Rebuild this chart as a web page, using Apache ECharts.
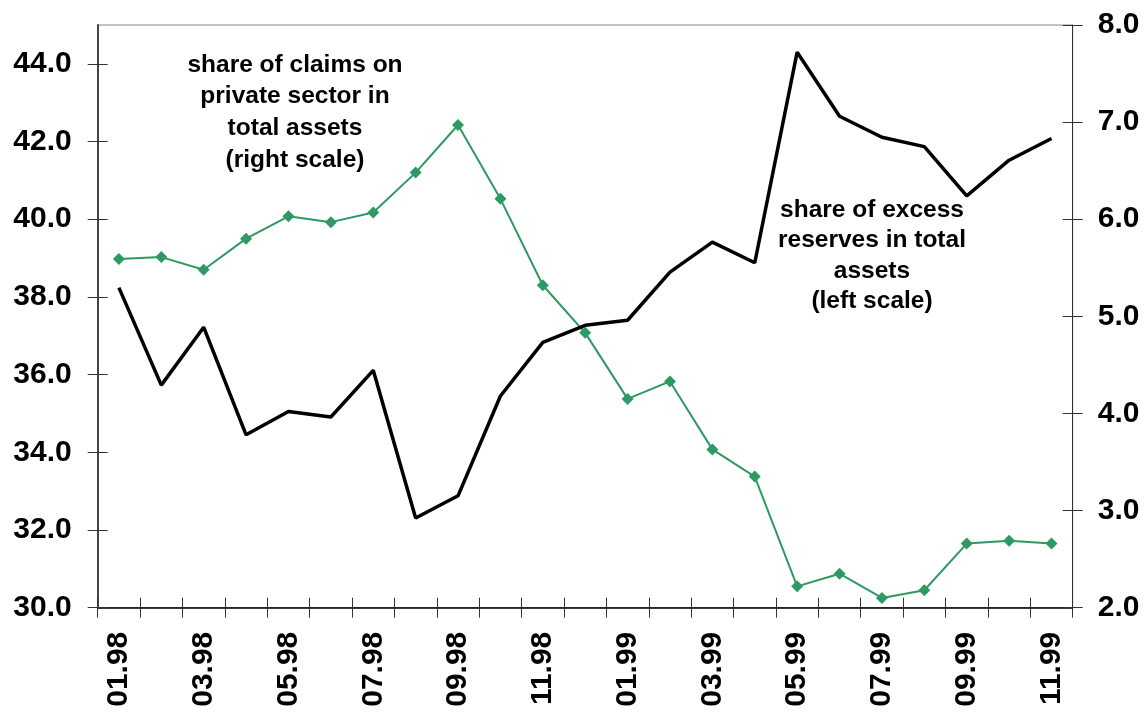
<!DOCTYPE html>
<html>
<head>
<meta charset="utf-8">
<script src="https://cdn.jsdelivr.net/npm/echarts@6/dist/echarts.min.js"></script>
<style>
  html, body { margin: 0; padding: 0; background: #fff; }
  #main { width: 1146px; height: 713px; }
</style>
</head>
<body>
<div id="main"></div>
<script>
let months = ['01.98', '02.98', '03.98', '04.98', '05.98', '06.98', '07.98', '08.98', '09.98', '10.98', '11.98', '12.98',
  '01.99', '02.99', '03.99', '04.99', '05.99', '06.99', '07.99', '08.99', '09.99', '10.99', '11.99']
// share of excess reserves in total assets, left scale
let excessReserves = [38.24, 35.73, 37.22, 34.45, 35.05, 34.91, 36.11, 32.31, 32.88, 35.45, 36.83, 37.27,
  37.40, 38.64, 39.41, 38.88, 44.30, 42.65, 42.11, 41.87, 40.60, 41.52, 42.08]
// share of claims on private sector in total assets, right scale
let privateClaims = [5.59, 5.61, 5.48, 5.80, 6.03, 5.97, 6.07, 6.48, 6.97, 6.21, 5.32, 4.83,
  4.15, 4.33, 3.63, 3.35, 2.22, 2.35, 2.10, 2.18, 2.66, 2.69, 2.66]
let leftTicks = [30, 32, 34, 36, 38, 40, 42, 44]

let myChart = echarts.init(document.getElementById('main'))

let labelFont = {
  fontFamily: 'Liberation Sans, Arial, sans-serif',
  fontWeight: 'bold',
  fontSize: 30,
  color: '#000'
}

let option = {
  animation: false,
  backgroundColor: '#fff',
  grid: {
    left: 97.7,
    right: 73.3,
    top: 25,
    bottom: 105.3,
    show: true,
    borderColor: '#888',
    borderWidth: 1
  },
  xAxis: [
    {
      type: 'category',
      data: months,
      boundaryGap: true,
      axisLine: {lineStyle: {color: '#000', width: 1.5}},
      axisTick: {show: true, length: 10, interval: 0, lineStyle: {color: '#333'}},
      axisLabel: Object.assign({interval: 1, rotate: 90, margin: 24, hideOverlap: false}, labelFont),
      splitLine: {show: false}
    },
    {
      type: 'category',
      data: months,
      position: 'bottom',
      axisLine: {show: false},
      axisTick: {show: true, inside: true, length: 10, interval: 0, lineStyle: {color: '#333'}},
      axisLabel: {show: false},
      splitLine: {show: false}
    }
  ],
  yAxis: [
    {
      type: 'value',
      position: 'left',
      min: 30,
      max: 45,
      axisLine: {show: true, lineStyle: {color: '#444', width: 2}},
      axisTick: {show: true, length: 10, customValues: leftTicks, lineStyle: {color: '#333'}},
      axisLabel: Object.assign({margin: 26, customValues: leftTicks, formatter: v => v.toFixed(1)}, labelFont),
      splitLine: {show: false}
    },
    {
      type: 'value',
      position: 'right',
      min: 2,
      max: 8,
      interval: 1,
      axisLine: {show: true, lineStyle: {color: '#333', width: 1}},
      axisTick: {show: true, length: 10, lineStyle: {color: '#333'}},
      axisLabel: Object.assign({margin: 25, formatter: v => v.toFixed(1)}, labelFont),
      splitLine: {show: false}
    },
    {
      type: 'value',
      position: 'left',
      min: 30,
      max: 45,
      axisLine: {show: false},
      axisTick: {show: true, inside: true, length: 10, customValues: leftTicks, lineStyle: {color: '#333'}},
      axisLabel: {show: false},
      splitLine: {show: false}
    },
    {
      type: 'value',
      position: 'right',
      min: 2,
      max: 8,
      interval: 1,
      axisLine: {show: false},
      axisTick: {show: true, inside: true, length: 10, lineStyle: {color: '#333'}},
      axisLabel: {show: false},
      splitLine: {show: false}
    }
  ],
  graphic: [
    {
      type: 'text',
      x: 295,
      y: 49,
      style: {
        text: 'share of claims on\nprivate sector in\ntotal assets\n(right scale)',
        align: 'center',
        verticalAlign: 'top',
        font: 'bold 24.5px "Liberation Sans", Arial, sans-serif',
        lineHeight: 31.7,
        fill: '#000'
      }
    },
    {
      type: 'text',
      x: 872,
      y: 194.5,
      style: {
        text: 'share of excess\nreserves in total\nassets\n(left scale)',
        align: 'center',
        verticalAlign: 'top',
        font: 'bold 24.5px "Liberation Sans", Arial, sans-serif',
        lineHeight: 30.5,
        fill: '#000'
      }
    }
  ],
  series: [
    {
      name: 'excess reserves',
      type: 'line',
      yAxisIndex: 0,
      data: excessReserves,
      symbol: 'none',
      lineStyle: {color: '#000', width: 3.5},
      itemStyle: {color: '#000'},
      z: 3
    },
    {
      name: 'claims on private sector',
      type: 'line',
      yAxisIndex: 1,
      data: privateClaims,
      symbol: 'diamond',
      symbolSize: 12,
      showAllSymbol: true,
      lineStyle: {color: '#2e9963', width: 2},
      itemStyle: {color: '#2e9963'},
      z: 2
    }
  ]
}
myChart.setOption(option, true)
</script>
</body>
</html>
